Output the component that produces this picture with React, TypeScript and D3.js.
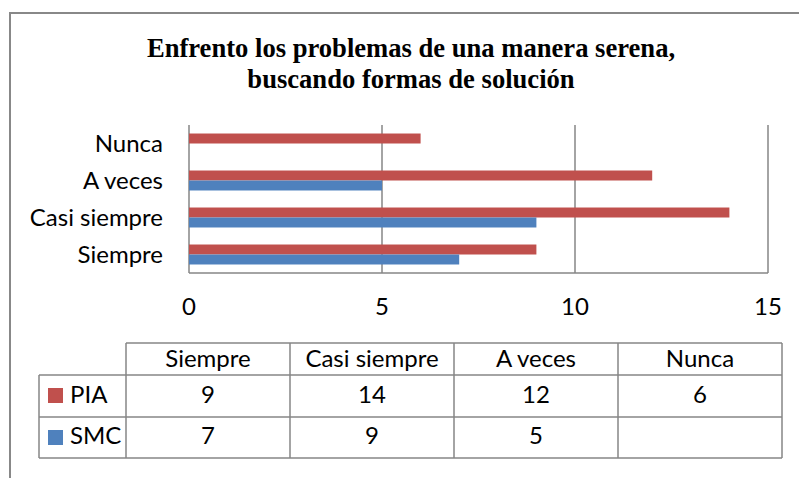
import React from "react";
import * as d3 from "d3";

const categories = ["Siempre", "Casi siempre", "A veces", "Nunca"];
const seriesNames = ["PIA", "SMC"];
const piaValues: (number | null)[] = [9, 14, 12, 6];
const smcValues: (number | null)[] = [7, 9, 5, null];
const xTicks = [0, 5, 10, 15];
const titleLines = ["Enfrento los problemas de una manera serena,", "buscando formas de solución"];

const W = 799;
const H = 478;
const COLORS: Record<string, string> = { PIA: "#C0504D", SMC: "#4F81BD" };
const GRID = "#868686";
const FONT = "Lato, 'Open Sans', sans-serif";
const FS = 24;

export default function App() {
  const series = [
    { name: seriesNames[0], values: piaValues },
    { name: seriesNames[1], values: smcValues },
  ];
  const x = d3.scaleLinear().domain([0, 15]).range([189, 768]);
  const y = d3
    .scaleBand<string>()
    .domain([...categories].reverse())
    .range([125, 273])
    .paddingInner(0.46)
    .paddingOuter(0.23);
  const sub = d3.scaleBand<string>().domain(seriesNames).range([0, y.bandwidth()]);

  // table geometry
  const colX = [126, 290, 454, 618, 782];
  const legendLeft = 39;
  const rowY = [343, 375, 417, 458];

  return (
    <svg
      width={W}
      height={H}
      style={{ position: "absolute", left: 0, top: 0, background: "#fff" }}
      fontFamily={FONT}
    >
      {/* outer frame (top & left visible) */}
      <rect x={10} y={13} width={W + 20} height={H + 20} fill="none" stroke="#888" strokeWidth={2} />

      {/* title */}
      {titleLines.map((t, i) => (
        <text
          key={i}
          x={411}
          y={57 + i * 31}
          textAnchor="middle"
          fontFamily="'Liberation Serif', 'Times New Roman', serif"
          fontWeight="bold"
          fontSize={26.6}
          fill="#000"
        >
          {t}
        </text>
      ))}

      {/* gridlines */}
      {xTicks.map((t) => (
        <line key={t} x1={x(t)} x2={x(t)} y1={125} y2={273} stroke={GRID} strokeWidth={1.5} />
      ))}
      <line x1={x(0)} x2={x(15)} y1={273} y2={273} stroke={GRID} strokeWidth={1.5} />

      {/* bars */}
      {series.map((s) =>
        categories.map((c, i) => {
          const v = s.values[i];
          if (v == null) return null;
          return (
            <rect
              key={s.name + c}
              x={x(0)}
              y={(y(c) as number) + (sub(s.name) as number)}
              width={x(v) - x(0)}
              height={sub.bandwidth()}
              fill={COLORS[s.name]}
            />
          );
        })
      )}

      {/* category labels */}
      {categories.map((c) => (
        <text
          key={c}
          x={163}
          y={(y(c) as number) + y.bandwidth() / 2 + 8}
          textAnchor="end"
          fontSize={FS}
          fill="#000"
        >
          {c}
        </text>
      ))}

      {/* x tick labels */}
      {xTicks.map((t) => (
        <text key={t} x={x(t)} y={315} textAnchor="middle" fontSize={FS} fill="#000">
          {t}
        </text>
      ))}

      {/* data table */}
      <g stroke={GRID} strokeWidth={1.5} fill="none">
        <line x1={colX[0]} x2={colX[4]} y1={rowY[0]} y2={rowY[0]} />
        <line x1={legendLeft} x2={colX[4]} y1={rowY[1]} y2={rowY[1]} />
        <line x1={legendLeft} x2={colX[4]} y1={rowY[2]} y2={rowY[2]} />
        <line x1={legendLeft} x2={colX[4]} y1={rowY[3]} y2={rowY[3]} />
        <line x1={legendLeft} x2={legendLeft} y1={rowY[1]} y2={rowY[3]} />
        {colX.map((cx, i) => (
          <line key={i} x1={cx} x2={cx} y1={rowY[0]} y2={rowY[3]} />
        ))}
      </g>
      {categories.map((c, i) => (
        <text
          key={c}
          x={(colX[i] + colX[i + 1]) / 2}
          y={rowY[1] - 8}
          textAnchor="middle"
          fontSize={FS}
          fill="#000"
        >
          {c}
        </text>
      ))}
      {series.map((s, r) => (
        <g key={s.name}>
          <rect x={48} y={rowY[r + 1] + 13} width={15} height={15} fill={COLORS[s.name]} />
          <text x={70} y={rowY[r + 2] - 14} fontSize={FS} fill="#000">
            {s.name}
          </text>
          {s.values.map((v, i) =>
            v == null ? null : (
              <text
                key={i}
                x={(colX[i] + colX[i + 1]) / 2}
                y={rowY[r + 2] - 14}
                textAnchor="middle"
                fontSize={FS}
                fill="#000"
              >
                {v}
              </text>
            )
          )}
        </g>
      ))}
    </svg>
  );
}
